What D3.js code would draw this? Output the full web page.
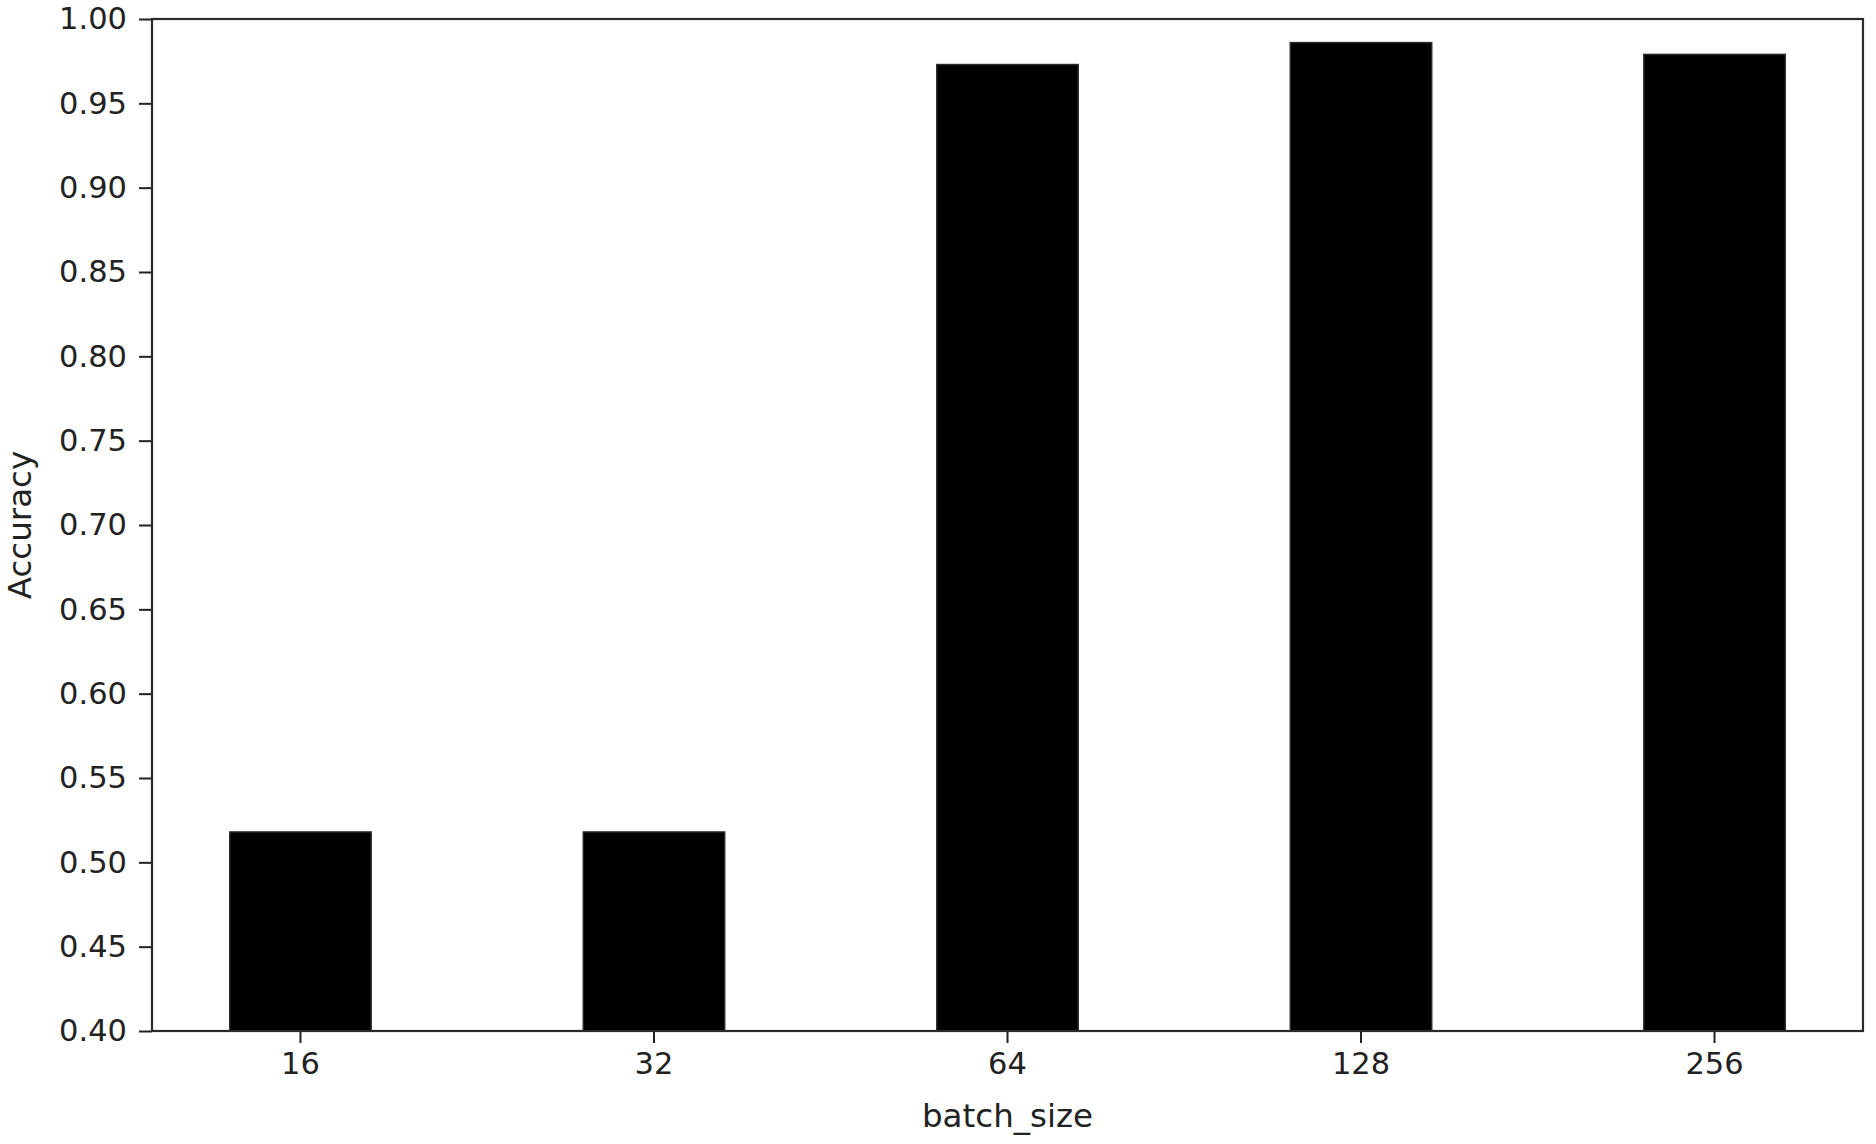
<!DOCTYPE html>
<html>
<head>
<meta charset="utf-8">
<script src="https://cdn.jsdelivr.net/npm/d3@7"></script>
<style>
  body { margin: 0; background: #fff; }
  text { font-family: "DejaVu Sans", sans-serif; fill: #222; }
</style>
</head>
<body>
<div id="chart"></div>
<script>
// data
var batchSizes = ["16", "32", "64", "128", "256"];
var accuracy = [0.518, 0.518, 0.973, 0.986, 0.979];
var yTicks = [0.40, 0.45, 0.50, 0.55, 0.60, 0.65, 0.70, 0.75, 0.80, 0.85, 0.90, 0.95, 1.00];

var svgWidth = 1876;
var svgHeight = 1144;
var margin = { top: 19, right: 13, bottom: 113, left: 152 };
var width = svgWidth - margin.left - margin.right;
var height = svgHeight - margin.top - margin.bottom;

var svg = d3.select("#chart")
  .append("svg")
  .attr("width", svgWidth)
  .attr("height", svgHeight);

var chartGroup = svg.append("g")
  .attr("transform", `translate(${margin.left}, ${margin.top})`);

// scales
var xScale = d3.scaleBand()
  .domain(batchSizes)
  .range([0, width])
  .paddingInner(0.6)
  .paddingOuter(0.22);

var yScale = d3.scaleLinear()
  .domain([0.4, 1.0])
  .range([height, 0]);

// bars
chartGroup.selectAll("rect.bar")
  .data(accuracy)
  .enter()
  .append("rect")
  .attr("class", "bar")
  .attr("x", (d, i) => xScale(batchSizes[i]))
  .attr("y", d => yScale(d))
  .attr("width", xScale.bandwidth())
  .attr("height", d => height - yScale(d))
  .attr("fill", "#000")
  .attr("stroke", "#2a2a2a")
  .attr("stroke-width", 1.5);

// axes
var xAxis = d3.axisBottom(xScale).tickSize(12).tickPadding(9);
var yAxis = d3.axisLeft(yScale)
  .tickValues(yTicks)
  .tickFormat(d3.format(".2f"))
  .tickSize(13)
  .tickPadding(12);

var xG = chartGroup.append("g")
  .attr("transform", `translate(0, ${height})`)
  .call(xAxis);
var yG = chartGroup.append("g")
  .call(yAxis);

[xG, yG].forEach(function(g) {
  g.select(".domain").remove();
  g.selectAll(".tick line").attr("stroke", "#222").attr("stroke-width", 2);
  g.selectAll(".tick text")
    .attr("fill", "#222")
    .style("font-family", "'DejaVu Sans', sans-serif")
    .style("font-size", "30.5px");
});

// frame
chartGroup.append("rect")
  .attr("x", 0)
  .attr("y", 0)
  .attr("width", width)
  .attr("height", height)
  .attr("fill", "none")
  .attr("stroke", "#2a2a2a")
  .attr("stroke-width", 2.2);

// axis labels
chartGroup.append("text")
  .attr("text-anchor", "middle")
  .attr("x", width / 2)
  .attr("y", height + 96)
  .style("font-size", "32.5px")
  .text("batch_size");

chartGroup.append("text")
  .attr("text-anchor", "middle")
  .attr("transform", `translate(${31 - margin.left}, ${height / 2}) rotate(-90)`)
  .style("font-size", "32.5px")
  .text("Accuracy");
</script>
</body>
</html>
